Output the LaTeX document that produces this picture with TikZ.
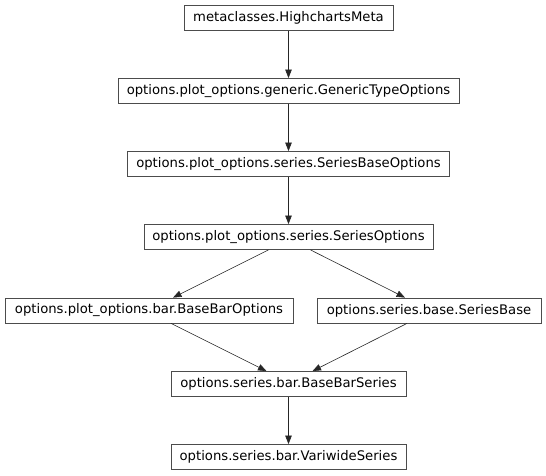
\documentclass[tikz,border=0pt]{standalone}
\usepackage{fontspec}
\setmainfont{DejaVu Sans}
\usetikzlibrary{arrows.meta}
\tikzset{
  cls/.style={draw=black!70, line width=0.8pt, fill=white, inner sep=0pt, minimum height=25pt, font=\fontsize{13.2}{15}\selectfont},
  inh/.style={draw=black!85, line width=0.6pt, -{Triangle[length=8.5pt,width=6.5pt]}}
}
\begin{document}
\begin{tikzpicture}[x=1pt,y=-1pt]
\useasboundingbox (0,0) rectangle (546,476);
\node[cls, minimum width=209pt] (n1) at (288.5,18) {metaclasses.HighchartsMeta};
\node[cls, minimum width=341pt] (n2) at (288.5,91) {options.plot\_options.generic.GenericTypeOptions};
\node[cls, minimum width=322pt] (n3) at (288.5,164) {options.plot\_options.series.SeriesBaseOptions};
\node[cls, minimum width=289pt] (n4) at (288.5,237) {options.plot\_options.series.SeriesOptions};
\node[cls, minimum width=288pt] (n5) at (149,310.5) {options.plot\_options.bar.BaseBarOptions};
\node[cls, minimum width=224pt] (n6) at (429,310.5) {options.series.base.SeriesBase};
\node[cls, minimum width=235pt] (n7) at (288.5,384) {options.series.bar.BaseBarSeries};
\node[cls, minimum width=235pt] (n8) at (288.5,457) {options.series.bar.VariwideSeries};
\draw[inh] (n1) -- (n2);
\draw[inh] (n2) -- (n3);
\draw[inh] (n3) -- (n4);
\draw[inh] ([xshift=-20pt]n4.south) -- ([xshift=24pt]n5.north);
\draw[inh] ([xshift=22pt]n4.south) -- ([xshift=-24pt]n6.north);
\draw[inh] ([xshift=22pt]n5.south) -- ([xshift=-22pt]n7.north);
\draw[inh] ([xshift=-22pt]n6.south) -- ([xshift=24pt]n7.north);
\draw[inh] (n7) -- (n8);
\end{tikzpicture}
\end{document}
